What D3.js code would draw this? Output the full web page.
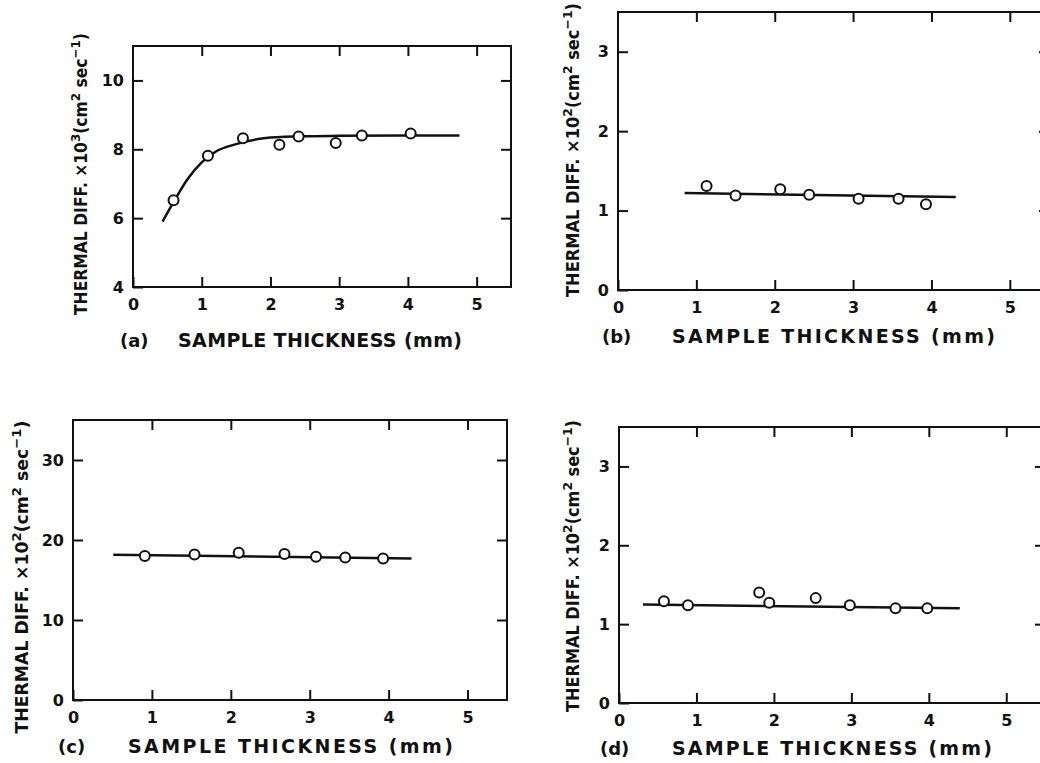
<!DOCTYPE html>
<html>
<head>
<meta charset="utf-8">
<script src="https://cdn.jsdelivr.net/npm/d3@7"></script>
<style>
  body { margin: 0; background: #fff; }
  svg { display: block; }
  text { font-family: "DejaVu Sans", sans-serif; font-weight: bold; fill: #111; }
</style>
</head>
<body>
<div id="fig"></div>
<script>
const xTickVals = [0, 1, 2, 3, 4, 5];
const panelLetters = ["(a)", "(b)", "(c)", "(d)"];
const yExponents = ["3", "2", "2", "2"];

// (a)
const thickA = [0.59, 1.09, 1.60, 2.13, 2.41, 2.95, 3.33, 4.04];
const diffA = [6.52, 7.81, 8.32, 8.13, 8.37, 8.18, 8.40, 8.46];
const fitThickA = [0.43, 0.6, 0.8, 1.0, 1.2, 1.5, 1.8, 2.0, 2.5, 3.0, 4.0, 4.75];
const fitDiffA = [5.9, 6.5, 7.15, 7.62, 7.93, 8.15, 8.29, 8.34, 8.38, 8.39, 8.4, 8.4];
const yTicksA = [4, 6, 8, 10];

// (b)
const thickB = [1.13, 1.50, 2.07, 2.44, 3.07, 3.58, 3.93];
const diffB = [1.31, 1.19, 1.27, 1.20, 1.15, 1.15, 1.08];
const fitThickB = [0.85, 4.31];
const fitDiffB = [1.22, 1.17];
const yTicksB = [0, 1, 2, 3];

// (c)
const thickC = [0.91, 1.54, 2.10, 2.68, 3.08, 3.45, 3.93];
const diffC = [18.0, 18.2, 18.4, 18.25, 17.9, 17.8, 17.7];
const fitThickC = [0.51, 4.29];
const fitDiffC = [18.15, 17.7];
const yTicksC = [0, 10, 20, 30];

// (d)
const thickD = [0.58, 0.89, 1.81, 1.94, 2.54, 2.98, 3.57, 3.98];
const diffD = [1.29, 1.24, 1.40, 1.27, 1.33, 1.24, 1.20, 1.20];
const fitThickD = [0.31, 4.40];
const fitDiffD = [1.25, 1.20];
const yTicksD = [0, 1, 2, 3];

const W = 1040, H = 763;

const svg = d3.select("#fig")
  .append("svg")
  .attr("width", W)
  .attr("height", H);

// panel frames and label spots, in pixels
const panels = [
  {thick: thickA, diff: diffA, fitX: fitThickA, fitY: fitDiffA, yTicks: yTicksA, yDomain: [4, 11],
   left: 133, right: 511, top: 46, bottom: 287,
   letterX: 120, titleX: 178, titleEnd: 462, titleY: 347,
   yTitleX: 87, yTitleY: 174, yTitleLen: 282, curve: d3.curveMonotoneX},
  {thick: thickB, diff: diffB, fitX: fitThickB, fitY: fitDiffB, yTicks: yTicksB, yDomain: [0, 3.5],
   left: 618, right: 1049, top: 12, bottom: 290,
   letterX: 602, titleX: 672, titleEnd: 995, titleY: 343,
   yTitleX: 579, yTitleY: 150, yTitleLen: 294, curve: d3.curveLinear},
  {thick: thickC, diff: diffC, fitX: fitThickC, fitY: fitDiffC, yTicks: yTicksC, yDomain: [0, 35],
   left: 73, right: 507, top: 420, bottom: 700,
   letterX: 58, titleX: 128, titleEnd: 453, titleY: 753,
   yTitleX: 28, yTitleY: 577, yTitleLen: 313, curve: d3.curveLinear},
  {thick: thickD, diff: diffD, fitX: fitThickD, fitY: fitDiffD, yTicks: yTicksD, yDomain: [0, 3.5],
   left: 619, right: 1045, top: 427, bottom: 703,
   letterX: 600, titleX: 672, titleEnd: 992, titleY: 755,
   yTitleX: 579, yTitleY: 566, yTitleLen: 292, curve: d3.curveLinear}
];

const fmt = d3.format("d");

panels.forEach((p, i) => {
  const g = svg.append("g");

  const x = d3.scaleLinear().domain([0, 5.5]).range([p.left, p.right]);
  const y = d3.scaleLinear().domain(p.yDomain).range([p.bottom, p.top]);

  //Frame
  g.append("rect")
    .attr("x", p.left)
    .attr("y", p.top)
    .attr("width", p.right - p.left)
    .attr("height", p.bottom - p.top)
    .attr("fill", "none")
    .attr("stroke", "#111")
    .attr("stroke-width", 2);

  //Axes with inward ticks
  const inner = v => v !== 0;
  const bottomAx = g.append("g")
    .attr("transform", `translate(0,${p.bottom})`)
    .call(d3.axisBottom(x).tickValues(xTickVals).tickSize(-10).tickSizeOuter(0).tickPadding(12).tickFormat(fmt));
  const topAx = g.append("g")
    .attr("transform", `translate(0,${p.top})`)
    .call(d3.axisTop(x).tickValues(xTickVals.filter(inner)).tickSize(-10).tickSizeOuter(0).tickFormat(""));
  const leftAx = g.append("g")
    .attr("transform", `translate(${p.left},0)`)
    .call(d3.axisLeft(y).tickValues(p.yTicks).tickSize(-10).tickSizeOuter(0).tickPadding(9).tickFormat(fmt));
  const rightAx = g.append("g")
    .attr("transform", `translate(${p.right},0)`)
    .call(d3.axisRight(y).tickValues(p.yTicks.slice(1)).tickSize(-10).tickSizeOuter(0).tickFormat(""));

  [bottomAx, topAx, leftAx, rightAx].forEach(ax => {
    ax.select(".domain").remove();
    ax.selectAll("line").attr("stroke", "#111").attr("stroke-width", 2);
    ax.selectAll("text").style("font-size", "16px");
  });

  //Fitted line
  g.append("path")
    .datum(p.fitX.map((v, k) => [v, p.fitY[k]]))
    .attr("fill", "none")
    .attr("stroke", "#111")
    .attr("stroke-width", 2.5)
    .attr("d", d3.line().curve(p.curve).x(d => x(d[0])).y(d => y(d[1])));

  //Measured points
  g.selectAll("circle")
    .data(p.thick.map((v, k) => [v, p.diff[k]]))
    .join("circle")
    .attr("cx", d => x(d[0]))
    .attr("cy", d => y(d[1]))
    .attr("r", 5)
    .attr("fill", "#fff")
    .attr("stroke", "#111")
    .attr("stroke-width", 2);

  //X title
  g.append("text")
    .attr("x", p.letterX)
    .attr("y", p.titleY)
    .style("font-size", "18px")
    .text(panelLetters[i]);
  g.append("text")
    .attr("x", p.titleX)
    .attr("y", p.titleY)
    .attr("textLength", p.titleEnd - p.titleX)
    .attr("lengthAdjust", "spacing")
    .style("font-size", "19px")
    .text("SAMPLE THICKNESS (mm)");

  //Y title
  const yt = g.append("text")
    .attr("transform", `translate(${p.yTitleX},${p.yTitleY}) rotate(-90)`)
    .attr("text-anchor", "middle")
    .attr("textLength", p.yTitleLen)
    .attr("lengthAdjust", "spacingAndGlyphs")
    .style("font-size", "17px");
  yt.append("tspan").text("THERMAL DIFF. \u00d710");
  yt.append("tspan").attr("baseline-shift", "super").style("font-size", "13px").text(yExponents[i]);
  yt.append("tspan").text("(cm");
  yt.append("tspan").attr("baseline-shift", "super").style("font-size", "13px").text("2");
  yt.append("tspan").text(" sec");
  yt.append("tspan").attr("baseline-shift", "super").style("font-size", "13px").text("\u22121");
  yt.append("tspan").text(")");
});
</script>
</body>
</html>
